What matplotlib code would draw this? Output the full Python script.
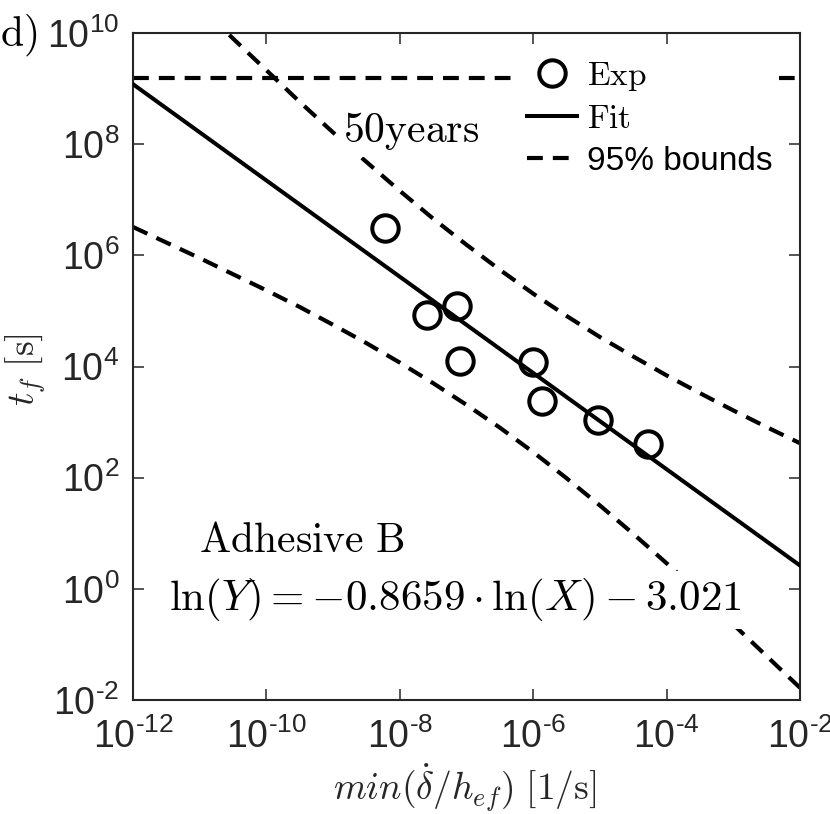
import numpy as np
import matplotlib
matplotlib.use('Agg')
import matplotlib.pyplot as plt
from matplotlib.font_manager import FontProperties
from matplotlib.ticker import NullLocator, FuncFormatter

# ---- data ----
exp_rate = [6.0e-9, 2.6e-8, 7.2e-8, 7.9e-8, 1.0e-6, 1.35e-6, 9.3e-6, 5.2e-5]
exp_time = [3.1e6, 8.5e4, 1.23e5, 1.26e4, 1.2e4, 2.4e3, 1.1e3, 4.1e2]

fit_slope = -0.8659
fit_intercept = -3.021
fit_rate = [1e-12, 1e-2]

bound_rate_exp = [-12, -11.5, -11, -10.5, -10, -9.5, -9, -8.5, -8, -7.5, -7,
                  -6.5, -6, -5.5, -5, -4.5, -4, -3.5, -3, -2.5, -2]
upper_time_exp = [11.65, 11.06, 10.48, 9.90, 9.33, 8.76, 8.21, 7.68, 7.16, 6.66, 6.19,
                  5.74, 5.31, 4.91, 4.53, 4.18, 3.84, 3.52, 3.21, 2.91, 2.62]
lower_time_exp = [6.51, 6.23, 5.95, 5.66, 5.37, 5.07, 4.75, 4.42, 4.07, 3.70, 3.31,
                  2.90, 2.46, 1.99, 1.50, 0.99, 0.46, -0.08, -0.64, -1.21, -1.78]

life_50_years = 1.578e9  # s
x_tick_exp = [-12, -10, -8, -6, -4, -2]
y_tick_exp = [-2, 0, 2, 4, 6, 8, 10]

# ---- style ----
plt.rcParams['font.family'] = ['Liberation Sans', 'DejaVu Sans']
dark = '#262626'

fig = plt.figure(figsize=(8.30, 8.14), dpi=100)
ax = fig.add_axes([133/830, 114/814, 667/830, 667/814])

ax.set_xscale('log')
ax.set_yscale('log')

dash = (3.8, 2.4)
dlw = 3.0
xb = 10.0 ** np.array(bound_rate_exp)
ax.plot(xb, 10.0 ** np.array(upper_time_exp), color='k', lw=dlw, ls=(0, dash),
        zorder=2)
ax.plot(xb, 10.0 ** np.array(lower_time_exp), color='k', lw=dlw, ls=(0, dash),
        zorder=2)
ax.plot([1e-12, 1e-2], [life_50_years, life_50_years], color='k', lw=dlw,
        ls=(0, dash), zorder=2)

xf = np.array(fit_rate)
yf = np.exp(fit_intercept) * xf ** fit_slope
h_fit, = ax.plot(xf, yf, color='k', lw=2.9, zorder=3)

h_exp, = ax.plot(exp_rate, exp_time, ls='none', marker='o', ms=19, mfc='none',
                 mec='k', mew=2.9, zorder=4)

h_bnd, = ax.plot([], [], color='k', lw=dlw, ls=(0, dash))

ax.set_xlim(1e-12, 1e-2)
ax.set_ylim(1e-2, 1e10)
ax.set_xticks(10.0 ** np.array(x_tick_exp))
ax.set_yticks(10.0 ** np.array(y_tick_exp))
ax.xaxis.set_minor_locator(NullLocator())
ax.yaxis.set_minor_locator(NullLocator())


def sci_label(v, pos):
    e = int(round(np.log10(v)))
    s = str(abs(e))
    if e < 0:
        s = '\u2010' + s
    return r'$\mathdefault{10^{%s}}$' % s


ax.xaxis.set_major_formatter(FuncFormatter(sci_label))
ax.yaxis.set_major_formatter(FuncFormatter(sci_label))
ax.tick_params(which='major', direction='in', length=8, width=1.1, top=True,
               right=True, labelsize=27, colors=dark)
ax.tick_params(axis='x', pad=13)
ax.tick_params(axis='y', pad=10)
for s in ax.spines.values():
    s.set_color(dark)
    s.set_linewidth(1.5)

ax.set_xlabel(r'$min(\dot{\delta}/h_{ef})\ [\mathrm{1/s}]$', fontsize=27,
              color=dark, math_fontfamily='cm')
ax.xaxis.set_label_coords(0.497, -0.092)
ax.set_ylabel(r'$t_f\ [\mathrm{s}]$', fontsize=27, color=dark,
              math_fontfamily='cm')
ax.yaxis.set_label_coords(-0.128, 0.495)

fig.text(0.0, 1 - 35/814, r'$\mathrm{d)}$', fontsize=30, ha='left', va='center',
         math_fontfamily='cm')

bbox_w = dict(facecolor='white', edgecolor='none', pad=4)
ax.text(1.5e-8, 1.74e8, r'$\mathrm{50years}$', fontsize=30, ha='center',
        va='center', zorder=5, bbox=bbox_w, math_fontfamily='cm')
ax.text(3.4e-10, 7.2, r'$\mathrm{Adhesive\ B}$', fontsize=30,
        ha='center', va='center', zorder=5, math_fontfamily='cm')
ax.text(6.9e-8, 0.63, r'$\ln(Y)=-0.8659\cdot\ln(X)-3.021$', fontsize=31,
        ha='center', va='center', zorder=5, bbox=bbox_w, math_fontfamily='cm')

leg = ax.legend([h_exp, h_fit, h_bnd],
                [r'$\mathrm{Exp}$', r'$\mathrm{Fit}$', '95% bounds'],
                loc='upper left', bbox_to_anchor=(0.58, 0.97),
                prop=FontProperties(family='Liberation Sans', size=24,
                                    math_fontfamily='cm'),
                frameon=True, fancybox=False, framealpha=1, facecolor='white',
                edgecolor='none', handlelength=1.5, handletextpad=0.3,
                labelspacing=0.33, borderpad=0.2, borderaxespad=0)
leg.set_zorder(6)

fig.savefig('out.png', dpi=100)
